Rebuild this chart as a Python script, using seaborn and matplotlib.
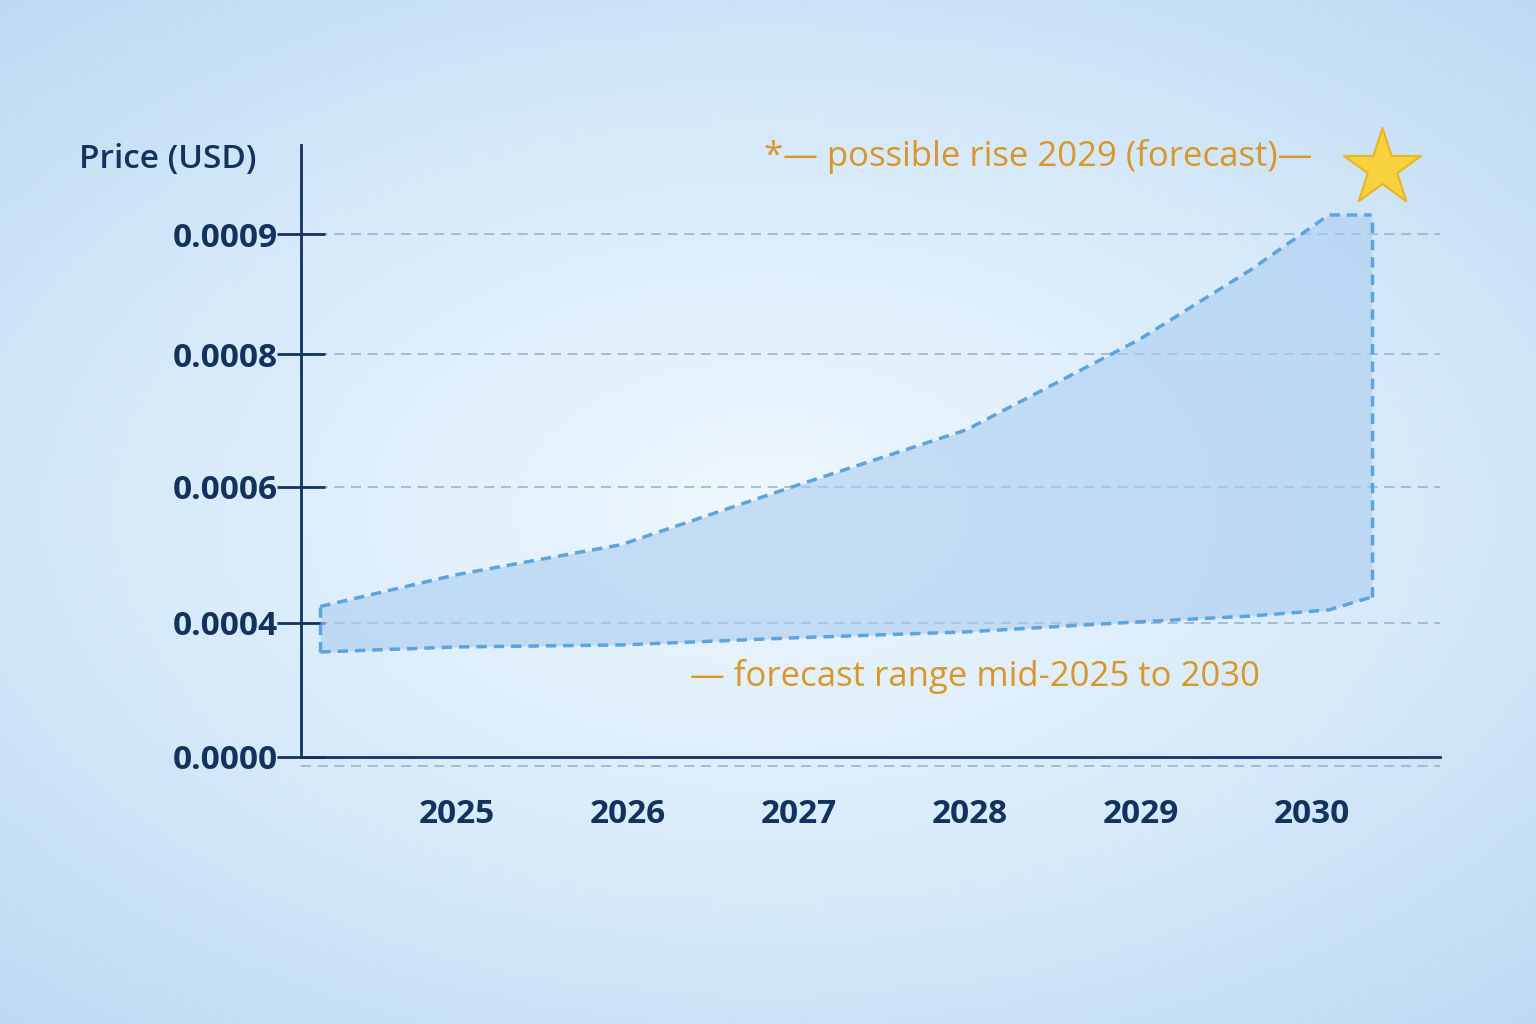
import numpy as np
import pandas as pd
import seaborn as sns
import matplotlib.pyplot as plt
from matplotlib.colors import LinearSegmentedColormap

sns.set_style("white")
plt.rcParams['font.family'] = ['Open Sans', 'DejaVu Sans']

years = [2024.2, 2025.0, 2025.96, 2026.96, 2027.98, 2028.99, 2029.64, 2030.1, 2030.35]
upper = [0.000424, 0.000471, 0.000515, 0.000600, 0.000686, 0.000812, 0.000870, 0.000916, 0.000916]
lower = [0.000313, 0.000328, 0.000334, 0.000355, 0.000373, 0.0004015, 0.000410, 0.000419, 0.000438]
yticks = [0.0000, 0.0004, 0.0006, 0.0008, 0.0009]
xticks = [2025, 2026, 2027, 2028, 2029, 2030]

# non-uniform axis as drawn in the reference
vals = [0.0, 0.0004, 0.0006, 0.0008, 0.0009, 0.0010]
pos = [0, 134, 270, 403, 523, 643]
fwd = lambda v: np.interp(v, vals, pos)
inv = lambda p: np.interp(p, pos, vals)

navy = '#14325e'
orange = '#d9962a'
line_c = '#5ea3de'

fig = plt.figure(figsize=(15.36, 10.24), dpi=100)
bg = fig.add_axes([0, 0, 1, 1], zorder=-10)
yy, xx = np.mgrid[-1:1:200j, -1:1:300j]
r = np.sqrt((xx * 0.9) ** 2 + (yy * 1.0) ** 2)
cmap = LinearSegmentedColormap.from_list('bg', ['#eef7fd', '#d8ebfa', '#bcd8f3'])
bg.imshow(r, cmap=cmap, aspect='auto', extent=[0, 1, 0, 1], vmin=0, vmax=1.4)
bg.plot([301 / 1536, 1440 / 1536], [1 - 766 / 1024] * 2, color='#9bb4cc', lw=1.2, ls=(0, (6, 4)))
bg.set_xlim(0, 1)
bg.set_ylim(0, 1)
bg.axis('off')

ax = fig.add_axes([0.196, 0.261, 0.7415, 0.597])
ax.patch.set_alpha(0)
ax.set_yscale('function', functions=(fwd, inv))
ax.set_xlim(2024.088, 2030.75)
ax.set_ylim(0, 0.000974)

df = pd.DataFrame({'year': years, 'upper': upper, 'lower': lower})
ax.fill_between(df['year'], df['lower'], df['upper'], color='#aacdf0', alpha=0.6, lw=0)
sns.lineplot(data=df, x='year', y='upper', ax=ax, color=line_c, lw=2.5, linestyle=(0, (3, 2)))
sns.lineplot(data=df, x='year', y='lower', ax=ax, color=line_c, lw=2.5, linestyle=(0, (3, 2)))
ax.plot([years[0]] * 2, [lower[0], upper[0]], color=line_c, lw=2.5, ls=(0, (3, 2)))
ax.plot([years[-1]] * 2, [lower[-1], upper[-1]], color=line_c, lw=2.5, ls=(0, (3, 2)))

for t in yticks[1:]:
    ax.axhline(t, color='#9bb4cc', lw=1.2, ls=(0, (6, 4)), zorder=0)

ax.scatter([2030.41], [0.000955], marker='*', s=3400, color='#f7d23e', edgecolor='#e8b520', lw=1.5, zorder=5, clip_on=False)

for s in ['top', 'right']:
    ax.spines[s].set_visible(False)
ax.spines['left'].set_color(navy)
ax.spines['bottom'].set_color(navy)
ax.spines['left'].set_linewidth(2)
ax.spines['bottom'].set_linewidth(2)

ax.set_yticks(yticks)
ax.set_yticklabels([f'{t:.4f}' for t in yticks], fontsize=24, fontweight='bold', color=navy)
ax.set_xticks(xticks)
ax.set_xticklabels([str(x) for x in xticks], fontsize=24, fontweight='bold', color=navy)
ax.tick_params(axis='y', left=True, direction='inout', length=34, width=2, color=navy, pad=0)
ax.tick_params(axis='x', bottom=False, length=0, pad=30)
ax.set_xlabel('')
ax.set_ylabel('')

fig.text(168 / 1536, 1 - 160 / 1024, 'Price (USD)', fontsize=24, color=navy, ha='center', va='center', fontweight='semibold')
fig.text(1038 / 1536, 1 - 157 / 1024, '*— possible rise 2029 (forecast)—', fontsize=25, color=orange, ha='center', va='center')
fig.text(975 / 1536, 1 - 677 / 1024, '— forecast range mid-2025 to 2030', fontsize=25, color=orange, ha='center', va='center')

fig.savefig('out.png', dpi=100)
